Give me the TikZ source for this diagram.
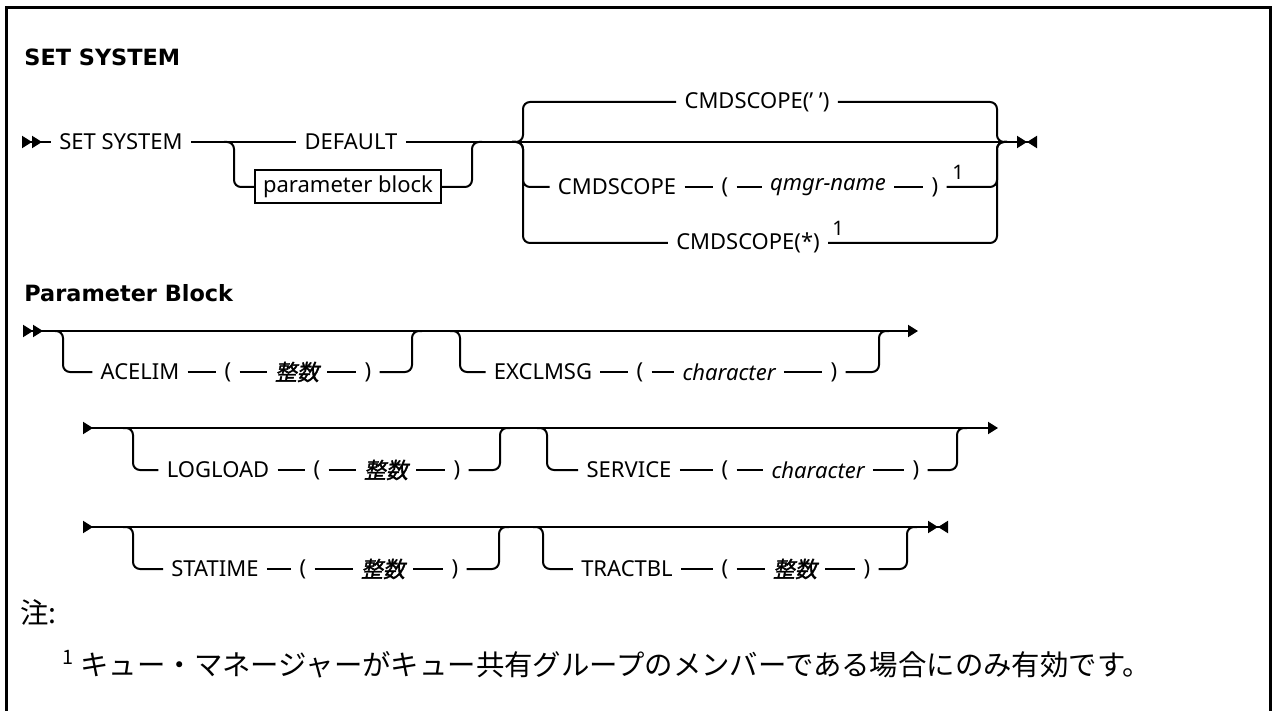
\documentclass[tikz,border=0pt]{standalone}
\usepackage{fontspec}
\setmainfont{Noto Sans}
\newfontfamily\headfont{DejaVu Sans}
\newfontfamily\jpfont{Noto Sans CJK JP}
\newfontfamily\jpslant[FakeSlant=0.2,FakeBold=1.5]{Noto Sans CJK JP}
\usetikzlibrary{arrows.meta}

\begin{document}
\begin{tikzpicture}[x=0.5pt,y=-0.5pt,
	rail/.style={line width=1pt,rounded corners=3.5pt},
	fw/.tip={Triangle[length=5pt,width=6pt]},
	bw/.tip={Triangle[length=5pt,width=6pt,reversed]},
	tok/.style={font=\fontsize{11}{13}\selectfont,inner xsep=4pt,inner ysep=0pt},
	var/.style={tok,font=\fontsize{11}{13}\selectfont\itshape},
	jvar/.style={tok,font=\fontsize{11}{13}\selectfont\jpslant},
	fnmark/.style={font=\fontsize{10}{12}\selectfont,inner sep=0pt},
	heading/.style={font=\fontsize{11.2}{13}\selectfont\headfont\bfseries,anchor=west,inner sep=0pt},
	note/.style={font=\fontsize{14.2}{17}\selectfont\jpfont,anchor=west,inner sep=0pt}]
	\useasboundingbox (0,0) rectangle (1274,711);
	\draw[line width=1.5pt] (6,711) -- (6,8) -- (1270,8) -- (1270,711);

	% SET SYSTEM
	\node[heading] (title) at (24,57) {SET SYSTEM};
	\coordinate (start) at (22,142);
	\node[tok] (setsys) at (121,142) {SET SYSTEM};
	\node[tok] (default) at (351,142) {DEFAULT};
	\node[tok,draw,line width=1pt,minimum height=16.5pt] (pblock) at (348,187) {parameter block};
	\draw[rail,{bw[]bw[]}-] (start) -- (setsys);
	\draw[rail] (setsys) -- (default);
	\draw[rail,-{fw[]bw[]}] (default) -- (1037,142);
	\draw[rail] (224,142) -- (234,142) -- (234,187) -- (pblock);
	\draw[rail] (pblock) -- (472,187) -- (472,142) -- (482,142);

	% CMDSCOPE choices
	\coordinate (csin) at (512,142);
	\coordinate (csout) at (1007,142);
	\node[tok] (cs1) at (757,102) {CMDSCOPE(' ')};
	\node[tok] (cmds2) at (617,187) {CMDSCOPE};
	\node[tok] (lp2) at (725,187) {(};
	\node[var] (qmgr) at (828,187) {qmgr-name};
	\node[tok] (rp2) at (935,187) {)};
	\node[fnmark] (fnA) at (958,172) {1};
	\node[tok] (cs3) at (748,243) {CMDSCOPE(*)};
	\node[fnmark] (fnB) at (838,228) {1};
	\draw[rail] (csin) -- (523,142) -- (523,102) -- (cs1);
	\draw[rail] (csin) -- (523,142) -- (523,187) -- (cmds2);
	\draw[rail] (csin) -- (523,142) -- (523,243) -- (cs3);
	\draw[rail] (cmds2) -- (lp2) (lp2) -- (qmgr) (qmgr) -- (rp2);
	\draw[rail] (cs1) -- (997,102) -- (997,142) -- (csout);
	\draw[rail] (rp2) -- (997,187) -- (997,142) -- (csout);
	\draw[rail] (cs3) -- (997,243) -- (997,142) -- (csout);

	% Parameter Block
	\node[heading] (title2) at (24,293) {Parameter Block};
	\draw[rail,{bw[]bw[]}-{fw[]}] (23,331) -- (918,331);
	\draw[rail,{bw[]}-{fw[]}] (83,428) -- (998,428);
	\draw[rail,{bw[]}-{fw[]bw[]}] (83,527) -- (948,527);

	\node[tok] (acelim) at (140,372) {ACELIM};
	\node[tok] (lpa) at (228,372) {(};
	\node[jvar] (inta) at (297,372) {整数};
	\node[tok] (rpa) at (368,372) {)};
	\draw[rail] (55,331) -- (63,331) -- (63,372) -- (acelim);
	\draw[rail] (acelim) -- (lpa) (lpa) -- (inta) (inta) -- (rpa);
	\draw[rail] (rpa) -- (412,372) -- (412,331) -- (422,331);

	\node[tok] (excl) at (543,372) {EXCLMSG};
	\node[tok] (lpe) at (640,372) {(};
	\node[var] (chare) at (729,372) {character};
	\node[tok] (rpe) at (834,372) {)};
	\draw[rail] (450,331) -- (460,331) -- (460,372) -- (excl);
	\draw[rail] (excl) -- (lpe) (lpe) -- (chare) (chare) -- (rpe);
	\draw[rail] (rpe) -- (879,372) -- (879,331) -- (889,331);

	\node[tok] (logload) at (218,470) {LOGLOAD};
	\node[tok] (lpl) at (317,470) {(};
	\node[jvar] (intl) at (386,470) {整数};
	\node[tok] (rpl) at (457,470) {)};
	\draw[rail] (123,428) -- (133,428) -- (133,470) -- (logload);
	\draw[rail] (logload) -- (lpl) (lpl) -- (intl) (intl) -- (rpl);
	\draw[rail] (rpl) -- (500,470) -- (500,428) -- (510,428);

	\node[tok] (service) at (629,470) {SERVICE};
	\node[tok] (lps) at (725,470) {(};
	\node[var] (chars) at (818,470) {character};
	\node[tok] (rps) at (916,470) {)};
	\draw[rail] (537,428) -- (547,428) -- (547,470) -- (service);
	\draw[rail] (service) -- (lps) (lps) -- (chars) (chars) -- (rps);
	\draw[rail] (rps) -- (957,470) -- (957,428) -- (967,428);

	\node[tok] (statime) at (215,569) {STATIME};
	\node[tok] (lpt) at (303,569) {(};
	\node[jvar] (intt) at (383,569) {整数};
	\node[tok] (rpt) at (455,569) {)};
	\draw[rail] (123,527) -- (133,527) -- (133,569) -- (statime);
	\draw[rail] (statime) -- (lpt) (lpt) -- (intt) (intt) -- (rpt);
	\draw[rail] (rpt) -- (499,569) -- (499,527) -- (509,527);

	\node[tok] (tractbl) at (627,569) {TRACTBL};
	\node[tok] (lptr) at (725,569) {(};
	\node[jvar] (inttr) at (795,569) {整数};
	\node[tok] (rptr) at (867,569) {)};
	\draw[rail] (533,527) -- (543,527) -- (543,569) -- (tractbl);
	\draw[rail] (tractbl) -- (lptr) (lptr) -- (inttr) (inttr) -- (rptr);
	\draw[rail] (rptr) -- (907,569) -- (907,527) -- (917,527);

	% notes
	\node[note] (notes) at (20,612) {注:};
	\node[note] (note1) at (62,664) {\textsuperscript{1}\hspace{3pt}キュー・マネージャーがキュー共有グループのメンバーである場合にのみ有効です。};
\end{tikzpicture}
\end{document}
